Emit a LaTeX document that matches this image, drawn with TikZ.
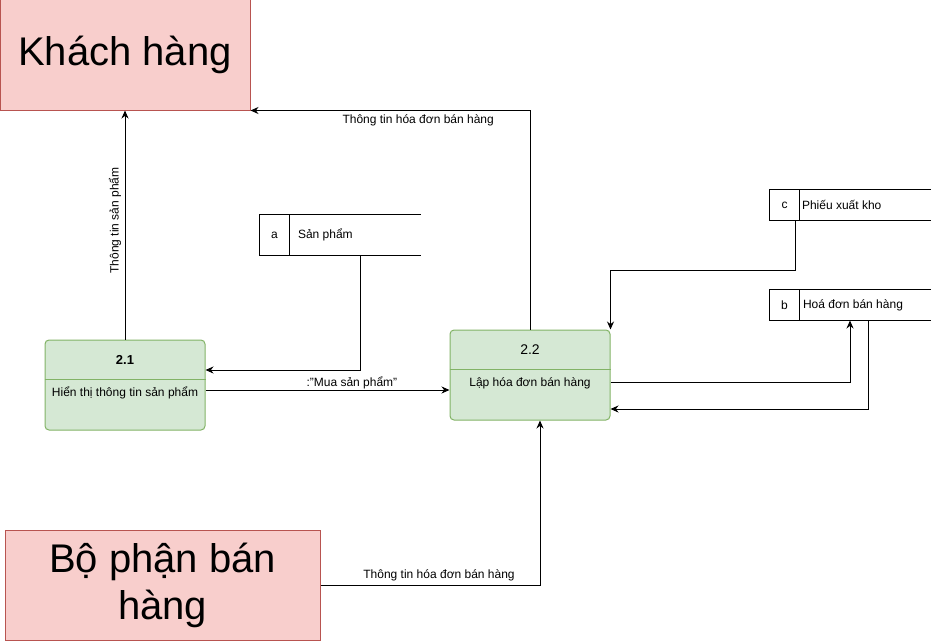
\documentclass[tikz,border=0pt]{standalone}
\usepackage{fontspec}
\setmainfont{Liberation Sans}
\usetikzlibrary{positioning}
\usetikzlibrary{calc}
\usetikzlibrary{arrows.meta}
\definecolor{pinkfill}{HTML}{F8CECC}
\definecolor{pinkline}{HTML}{B85450}
\definecolor{greenfill}{HTML}{D5E8D4}
\definecolor{greenline}{HTML}{82B366}
\begin{document}
\begin{tikzpicture}[x=1pt, y=-1pt, line width=1pt, >={Stealth[length=8pt, width=7pt]},
	font=\fontsize{12}{14}\selectfont,
	entity/.style={draw=pinkline, fill=pinkfill, align=center, font=\fontsize{40}{47}\selectfont},
	process/.style={draw=greenline, fill=greenfill, rounded corners=4pt, minimum width=160pt, minimum height=90pt},
	store/.style={minimum width=160pt, inner sep=0pt},
	storetext/.style={inner sep=0pt, anchor=west}]
			\useasboundingbox (0,0) rectangle (931,642);
			\node[entity, minimum width=250pt, minimum height=110pt] (khachhang) at (125,55) {Khách hàng};
			\node[entity, minimum width=315pt, minimum height=110pt] (bophan) at (162.5,585) {Bộ phận bán\\hàng};
			\node[process] (p21) at (125,385) {};
			\node[process] (p22) at (530,375) {};
			\draw[greenline] ($(p21.north west)+(0,40)$) -- ($(p21.north east)+(0,40)$);
			\draw[greenline] ($(p22.north west)+(0,40)$) -- ($(p22.north east)+(0,40)$);
			\node[font=\fontsize{13}{15}\selectfont\bfseries] (p21id) at (125,360) {2.1};
			\node (p21name) at (125,393) {Hiển thị thông tin sản phẩm};
			\node[font=\fontsize{14}{16}\selectfont] (p22id) at (530,350) {2.2};
			\node (p22name) at (530,383) {Lập hóa đơn bán hàng};
			% kho du lieu
			\node[store, minimum height=40pt] (sanpham) at (340,235) {};
			\node[store, minimum height=30pt] (phieuxuat) at (850,205) {};
			\node[store, minimum height=30pt] (hoadon) at (850,305) {};
			\draw (sanpham.north east) -- (sanpham.north west) -- (sanpham.south west) -- (sanpham.south east);
			\draw ($(sanpham.north west)+(30,0)$) -- ($(sanpham.south west)+(30,0)$);
			\draw (phieuxuat.north east) -- (phieuxuat.north west) -- (phieuxuat.south west) -- (phieuxuat.south east);
			\draw ($(phieuxuat.north west)+(30,0)$) -- ($(phieuxuat.south west)+(30,0)$);
			\draw (hoadon.north east) -- (hoadon.north west) -- (hoadon.south west) -- (hoadon.south east);
			\draw ($(hoadon.north west)+(30,0)$) -- ($(hoadon.south west)+(30,0)$);
			\node (sanphamid) at ($(sanpham.west)+(15,0)$) {a};
			\node[storetext] (sanphamname) at ($(sanpham.west)+(38,0)$) {Sản phẩm};
			\node (phieuxuatid) at ($(phieuxuat.west)+(15,0)$) {c};
			\node[storetext] (phieuxuatname) at ($(phieuxuat.west)+(32,0)$) {Phiếu xuất kho};
			\node (hoadonid) at ($(hoadon.west)+(15,0)$) {b};
			\node[storetext] (hoadonname) at ($(hoadon.west)+(33,0)$) {Hoá đơn bán hàng};
			% luong du lieu
			\path[draw, ->] (p21.north) -- node[pos=0.52, rotate=90, above]{Thông tin sản phẩm} (khachhang.south);
			\path[draw, ->] (p22.north) |- node[pos=0.7, below]{Thông tin hóa đơn bán hàng} (khachhang.south east);
			\path[draw, ->] ($(sanpham.south)+(20,0)$) |- ($(p21.east)+(0,-15)$);
			\path[draw, ->] ($(p21.east)+(0,5)$) -- node[pos=0.6, above, inner sep=1pt]{:"Mua sản phẩm"} ($(p22.west)+(0,15)$);
			\path[draw, ->] ($(phieuxuat.south)+(-55,0)$) -- ++(0,50) -| (p22.north east);
			\path[draw, ->] ($(p22.east)+(0,7)$) -| (hoadon.south);
			\path[draw, ->] ($(hoadon.south)+(18,0)$) |- ($(p22.east)+(0,34)$);
			\path[draw, ->] (bophan.east) -| node[pos=0.27, above]{Thông tin hóa đơn bán hàng} ($(p22.south)+(10,0)$);
		\end{tikzpicture}
\end{document}
